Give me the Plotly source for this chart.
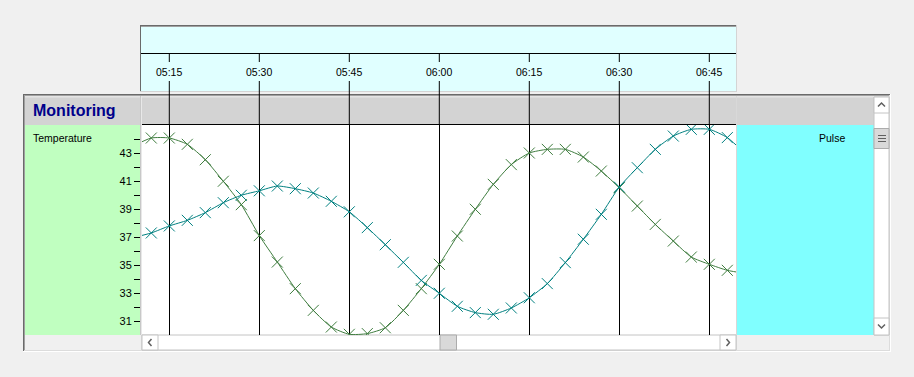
import plotly.graph_objects as go

DAY = "2024-01-01 "
TIMES = ["05:09", "05:12", "05:15", "05:18", "05:21", "05:24", "05:27", "05:30",
         "05:33", "05:36", "05:39", "05:42", "05:45", "05:48", "05:51", "05:54",
         "05:57", "06:00", "06:03", "06:06", "06:09", "06:12", "06:15", "06:18",
         "06:21", "06:24", "06:27", "06:30", "06:33", "06:36", "06:39", "06:42",
         "06:45", "06:48", "06:51"]
TEMPERATURE = [43.5, 44.07, 44.07, 43.62, 42.52, 40.98, 39.31, 37.1,
               35.21, 33.31, 31.76, 30.57, 30.05, 30.1, 30.52, 31.76,
               33.31, 35.05, 37.07, 38.98, 40.76, 42.17, 43.0, 43.26,
               43.26, 42.71, 41.71, 40.52, 39.21, 37.9, 36.71, 35.57,
               35.05, 34.62, 34.4]
PULSE = [36.96, 37.29, 37.79, 38.19, 38.74, 39.45, 39.98, 40.3,
         40.64, 40.45, 40.14, 39.55, 38.8, 37.67, 36.45, 35.19,
         33.9, 32.98, 32.05, 31.6, 31.48, 31.93, 32.66, 33.67,
         35.17, 36.84, 38.62, 40.57, 41.95, 43.26, 44.21, 44.69,
         44.69, 44.1, 42.95]
TICK_TIMES = ["05:15", "05:30", "05:45", "06:00", "06:15", "06:30", "06:45"]
TICK_LABELS = ["05:15", "05:30", "05:45", "06:00", "06:15", "06:30", "06:45"]
Y_TICKS = [31, 32, 33, 34, 35, 36, 37, 38, 39, 40, 41, 42, 43, 44]
Y_TICK_TEXT = ["31", "", "33", "", "35", "", "37", "", "39", "", "41", "", "43", ""]
X_RANGE = ["05:10:27", "06:49:27"]
Y_RANGE = [30, 45]

W, H = 914, 377
L, R, T, B = 142, 736, 125, 335
FONT = "Liberation Sans, Arial, sans-serif"
GREEN = "#3f7d3f"
TEAL = "#008080"


def P(x):
    return (x - L) / (R - L)


def Q(y):
    return (B - y) / (B - T)


shapes = []


def rect(x0, y0, x1, y1, fill, line=None, lw=0, layer="below"):
    shapes.append(dict(type="rect", xref="paper", yref="paper",
                       x0=P(x0), x1=P(x1), y0=Q(y1), y1=Q(y0),
                       fillcolor=fill, layer=layer,
                       line=dict(width=lw, color=line or fill)))


def hline(x0, x1, y, color, w=1, layer="below"):
    shapes.append(dict(type="line", xref="paper", yref="paper",
                       x0=P(x0), x1=P(x1), y0=Q(y), y1=Q(y),
                       line=dict(width=w, color=color), layer=layer))


def vline(x, y0, y1, color, w=1, layer="below"):
    shapes.append(dict(type="line", xref="paper", yref="paper",
                       x0=P(x), x1=P(x), y0=Q(y0), y1=Q(y1),
                       line=dict(width=w, color=color), layer=layer))


def chevron(pts, color="#606060", w=1.5, layer="above"):
    d = "M " + " L ".join(f"{P(x)},{Q(y)}" for x, y in pts)
    shapes.append(dict(type="path", xref="paper", yref="paper", path=d,
                       line=dict(width=w, color=color), layer=layer))


# --- top time header box
rect(141, 25, 737, 92, "#e0ffff")
hline(140, 737, 25.5, "#6a6a6a")
hline(140, 737, 26.5, "#a0a0a0")
vline(140.5, 25, 92, "#6a6a6a")
vline(736.5, 25, 92, "#d4d4d4")
hline(140, 737, 91.5, "#d4d4d4")
hline(141, 736, 53.5, "black")

# --- main panel
rect(23, 94, 891, 352, "#f0f0f0")
hline(23, 891, 94.5, "#6a6a6a")
hline(24, 890, 95.5, "#a0a0a0")
vline(23.5, 94, 352, "#6a6a6a")
vline(24.5, 95, 351, "#a0a0a0")
vline(890.5, 94, 352, "#ffffff")
vline(889.5, 95, 351, "#dcdcdc")
hline(23, 891, 351.5, "#ffffff")
hline(24, 890, 350.5, "#dcdcdc")

# title bar
rect(25, 96, 874, 125, "#d3d3d3")
hline(25, 874, 96.5, "#e4e4e4")
hline(25, 874, 97.5, "#dcdcdc")

# plot background
rect(142, 125, 736, 335, "#ffffff")

# side panels
rect(25, 125, 140, 335, "#c0ffc0")
rect(737, 125, 874, 335, "#80ffff")
vline(140.5, 96, 335, "#c8c8c8", layer="above")
vline(141.5, 96, 335, "#e8e8e8", layer="above")
vline(736.5, 96, 335, "#d8d8d8", layer="above")
hline(142, 736, 124.5, "black", layer="above")

# horizontal scrollbar
rect(142, 335, 736, 350, "#ffffff", "#c4c4c4", 1)
rect(142, 335, 158, 350, "#ffffff", "#c4c4c4", 1)
rect(720, 335, 736, 350, "#ffffff", "#c4c4c4", 1)
rect(440, 335, 456.5, 350, "#d9d9d9", "#acacac", 1)
chevron([(151.5, 339), (148.5, 342.5), (151.5, 346)])
chevron([(726.5, 339), (729.5, 342.5), (726.5, 346)])

# vertical scrollbar
rect(874, 97, 889, 335, "#ffffff", "#c4c4c4", 1)
rect(874, 97, 889, 113, "#ffffff", "#c4c4c4", 1)
rect(874, 318, 889, 335, "#ffffff", "#c4c4c4", 1)
rect(874, 128.5, 889, 148.5, "#d9d9d9", "#acacac", 1)
for gy in (135.5, 138.5, 141.5):
    hline(878, 886, gy, "#606060", layer="above")
chevron([(878, 106.5), (881.5, 103), (885, 106.5)])
chevron([(878, 324.5), (881.5, 328), (885, 324.5)])

# time tick marks through the header (positioned on the x scale)
for t in TICK_TIMES:
    for y0, y1 in ((53, 62), (81, 125)):
        shapes.append(dict(type="line", xref="x", yref="paper",
                           x0=DAY + t, x1=DAY + t, y0=Q(y0), y1=Q(y1),
                           line=dict(width=1, color="black"), layer="above"))

annotations = []
for t, lab in zip(TICK_TIMES, TICK_LABELS):
    annotations.append(dict(x=DAY + t, xref="x", y=Q(72), yref="paper",
                            text=lab, showarrow=False, xanchor="center",
                            yanchor="middle",
                            font=dict(family=FONT, size=10.5, color="black")))
annotations.append(dict(x=P(31), xref="paper", y=Q(110.5), yref="paper",
                        text="<b>Monitoring</b>", showarrow=False, xanchor="left",
                        yanchor="middle",
                        font=dict(family=FONT, size=16, color="#00008b")))
annotations.append(dict(x=P(31), xref="paper", y=Q(137.5), yref="paper",
                        text="Temperature", showarrow=False, xanchor="left",
                        yanchor="middle",
                        font=dict(family=FONT, size=10.5, color="black")))
annotations.append(dict(x=P(847), xref="paper", y=Q(137.5), yref="paper",
                        text="Pulse", showarrow=False, xanchor="right",
                        yanchor="middle",
                        font=dict(family=FONT, size=10.5, color="black")))

x_vals = [DAY + t for t in TIMES]

fig = go.Figure()
fig.add_trace(go.Scatter(
    x=x_vals, y=TEMPERATURE, name="Temperature", mode="lines+markers",
    line=dict(color=GREEN, width=1, shape="spline", smoothing=0.6),
    marker=dict(symbol="x-thin", size=11, line=dict(color=GREEN, width=1),
                color=GREEN),
    cliponaxis=True))
fig.add_trace(go.Scatter(
    x=x_vals, y=PULSE, name="Pulse", mode="lines+markers",
    line=dict(color=TEAL, width=1, shape="spline", smoothing=0.6),
    marker=dict(symbol="x-thin", size=11, line=dict(color=TEAL, width=1),
                color=TEAL),
    cliponaxis=True))

fig.update_layout(
    width=W, height=H, autosize=False,
    margin=dict(l=L, r=W - R, t=T, b=H - B, pad=0),
    paper_bgcolor="#f0f0f0", plot_bgcolor="white",
    showlegend=False,
    shapes=shapes, annotations=annotations,
    xaxis=dict(type="date", range=[DAY + X_RANGE[0], DAY + X_RANGE[1]],
               tickvals=[DAY + t for t in TICK_TIMES], showticklabels=False,
               ticks="", showgrid=True, gridcolor="black", gridwidth=1,
               zeroline=False, showline=False, fixedrange=True),
    yaxis=dict(range=Y_RANGE, tickvals=Y_TICKS, ticktext=Y_TICK_TEXT,
               ticks="outside", ticklen=7, tickcolor="black", tickwidth=1,
               showgrid=False, zeroline=False, showline=False,
               tickfont=dict(family=FONT, size=11, color="black"),
               fixedrange=True),
    hovermode=False,
)

fig.write_html("out.html", config={"displayModeBar": False, "staticPlot": True})
